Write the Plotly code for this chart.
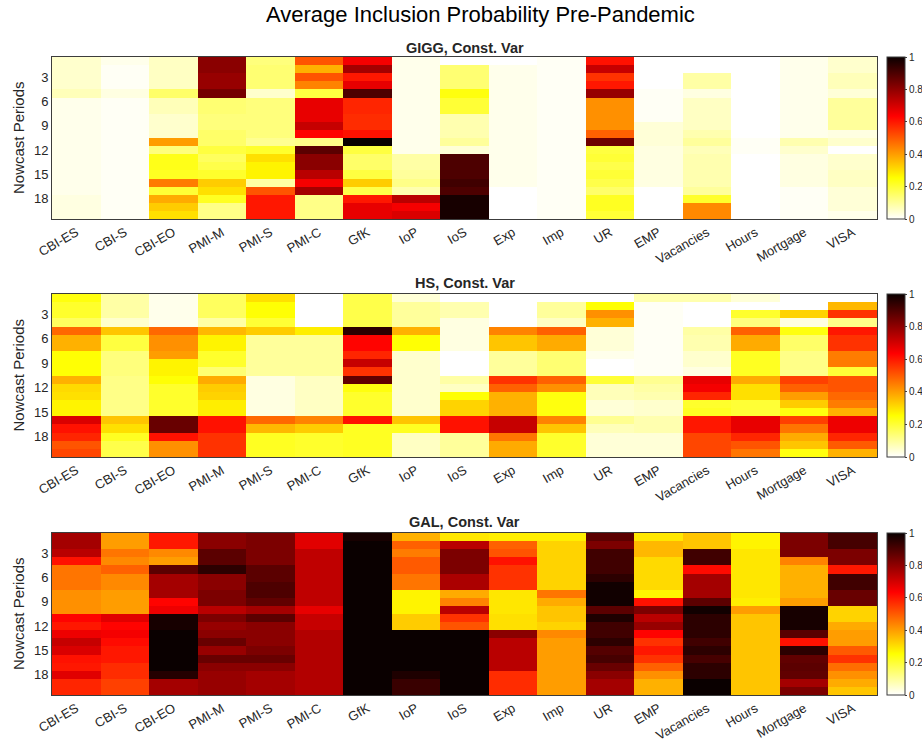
import plotly.graph_objects as go

indicators = ["CBI-ES", "CBI-S", "CBI-EO", "PMI-M", "PMI-S", "PMI-C", "GfK", "IoP", "IoS",
              "Exp", "Imp", "UR", "EMP", "Vacancies", "Hours", "Mortgage", "VISA"]
periods = list(range(1, 21))
y_ticks = [3, 6, 9, 12, 15, 18]
cbar_ticks = [0, 0.2, 0.4, 0.6, 0.8, 1]

main_title = "Average Inclusion Probability Pre-Pandemic"
panel_titles = ["GIGG, Const. Var", "HS, Const. Var", "GAL, Const. Var"]

# one list per indicator (20 nowcast periods each)
gigg = [
    [0.05,0.05,0.05,0.05,0.07,0.02,0.02,0.02,0.02,0.02,0.02,0.02,0.02,0.02,0.02,0.02,0.02,0.03,0.03,0.03],
    [0.02,0.01,0.01,0.01,0.03,0.01,0.01,0.01,0.01,0.01,0.01,0.01,0.01,0.01,0.01,0.01,0.01,0.01,0.01,0.01],
    [0.06,0.06,0.06,0.06,0.15,0.07,0.07,0.05,0.05,0.05,0.40,0.13,0.23,0.23,0.22,0.45,0.20,0.38,0.33,0.30],
    [0.81,0.81,0.79,0.79,0.84,0.14,0.14,0.13,0.13,0.15,0.15,0.19,0.16,0.18,0.21,0.33,0.30,0.22,0.12,0.12],
    [0.13,0.14,0.14,0.14,0.05,0.13,0.13,0.13,0.13,0.13,0.11,0.21,0.30,0.27,0.27,0.09,0.51,0.60,0.60,0.60],
    [0.51,0.37,0.51,0.44,0.19,0.67,0.67,0.67,0.72,0.63,0.12,0.88,0.81,0.81,0.74,0.65,0.77,0.12,0.12,0.12],
    [0.65,0.77,0.60,0.67,0.90,0.58,0.58,0.57,0.57,0.61,1.00,0.19,0.15,0.15,0.19,0.33,0.18,0.60,0.67,0.67],
    [0.02,0.02,0.02,0.02,0.02,0.02,0.02,0.02,0.02,0.02,0.02,0.02,0.09,0.09,0.10,0.12,0.08,0.74,0.65,0.69],
    [0.00,0.14,0.14,0.14,0.24,0.20,0.20,0.08,0.08,0.08,0.10,0.04,0.90,0.90,0.90,0.92,0.90,0.98,0.98,0.98],
    [0.00,0.02,0.02,0.02,0.02,0.02,0.02,0.02,0.02,0.02,0.02,0.02,0.02,0.02,0.02,0.02,0.00,0.00,0.00,0.00],
    [0.01,0.01,0.01,0.01,0.01,0.01,0.01,0.01,0.01,0.01,0.01,0.01,0.01,0.01,0.01,0.01,0.01,0.01,0.01,0.01],
    [0.61,0.72,0.56,0.60,0.79,0.42,0.42,0.42,0.42,0.49,0.85,0.19,0.20,0.18,0.20,0.18,0.15,0.22,0.22,0.20],
    [0.00,0.00,0.00,0.00,0.01,0.01,0.01,0.01,0.04,0.04,0.04,0.03,0.03,0.03,0.03,0.03,0.00,0.00,0.00,0.00],
    [0.00,0.00,0.09,0.09,0.03,0.06,0.06,0.06,0.06,0.08,0.10,0.07,0.08,0.08,0.08,0.08,0.10,0.21,0.43,0.43],
    [0.00,0.00,0.00,0.00,0.00,0.00,0.00,0.00,0.00,0.00,0.01,0.01,0.00,0.00,0.00,0.00,0.00,0.00,0.00,0.00],
    [0.02,0.02,0.02,0.02,0.02,0.02,0.02,0.02,0.02,0.02,0.08,0.05,0.03,0.03,0.03,0.03,0.01,0.01,0.01,0.01],
    [0.05,0.05,0.07,0.07,0.04,0.10,0.10,0.10,0.10,0.03,0.05,0.00,0.05,0.05,0.06,0.06,0.04,0.04,0.04,0.02],
]

hs = [
    [0.24,0.21,0.21,0.16,0.48,0.37,0.37,0.25,0.25,0.25,0.37,0.31,0.30,0.27,0.27,0.69,0.61,0.58,0.51,0.53],
    [0.09,0.09,0.09,0.05,0.34,0.19,0.19,0.13,0.13,0.13,0.12,0.12,0.12,0.12,0.12,0.34,0.30,0.22,0.18,0.18],
    [0.02,0.02,0.02,0.02,0.48,0.42,0.42,0.40,0.27,0.27,0.25,0.21,0.21,0.21,0.21,0.86,0.86,0.61,0.42,0.42],
    [0.16,0.16,0.16,0.09,0.36,0.27,0.27,0.21,0.21,0.14,0.38,0.33,0.32,0.28,0.28,0.61,0.61,0.56,0.56,0.56],
    [0.30,0.25,0.25,0.20,0.33,0.10,0.10,0.10,0.10,0.10,0.03,0.03,0.03,0.03,0.03,0.48,0.36,0.22,0.22,0.22],
    [0.00,0.00,0.00,0.00,0.28,0.10,0.10,0.10,0.10,0.10,0.06,0.06,0.06,0.06,0.06,0.44,0.33,0.21,0.21,0.21],
    [0.18,0.18,0.18,0.18,0.95,0.63,0.63,0.58,0.72,0.56,0.87,0.24,0.21,0.21,0.21,0.61,0.22,0.22,0.22,0.22],
    [0.04,0.10,0.10,0.10,0.37,0.25,0.25,0.05,0.05,0.05,0.05,0.05,0.05,0.05,0.05,0.34,0.22,0.06,0.06,0.06],
    [0.00,0.08,0.08,0.03,0.03,0.03,0.03,0.00,0.00,0.00,0.09,0.06,0.25,0.32,0.32,0.61,0.61,0.10,0.10,0.10],
    [0.00,0.00,0.00,0.00,0.44,0.34,0.34,0.10,0.10,0.10,0.56,0.49,0.37,0.37,0.37,0.72,0.72,0.46,0.38,0.38],
    [0.00,0.10,0.10,0.06,0.49,0.38,0.38,0.14,0.14,0.14,0.49,0.42,0.24,0.24,0.24,0.44,0.34,0.21,0.21,0.21],
    [0.00,0.25,0.42,0.37,0.04,0.04,0.04,0.02,0.00,0.00,0.20,0.07,0.07,0.04,0.04,0.11,0.07,0.04,0.04,0.04],
    [0.08,0.01,0.01,0.01,0.01,0.01,0.01,0.01,0.01,0.01,0.11,0.09,0.08,0.05,0.05,0.08,0.08,0.04,0.04,0.04],
    [0.08,0.00,0.00,0.00,0.09,0.08,0.08,0.05,0.05,0.03,0.67,0.65,0.58,0.21,0.22,0.60,0.60,0.53,0.53,0.53],
    [0.04,0.00,0.21,0.13,0.49,0.38,0.38,0.22,0.22,0.22,0.38,0.30,0.30,0.20,0.20,0.67,0.67,0.58,0.51,0.46],
    [0.00,0.00,0.32,0.03,0.24,0.15,0.15,0.12,0.12,0.12,0.54,0.49,0.40,0.33,0.24,0.54,0.46,0.38,0.34,0.24],
    [0.00,0.36,0.56,0.12,0.60,0.56,0.56,0.45,0.45,0.20,0.51,0.51,0.48,0.45,0.37,0.66,0.66,0.58,0.50,0.37],
]

gal = [
    [0.77,0.77,0.74,0.61,0.46,0.46,0.46,0.42,0.42,0.42,0.63,0.60,0.66,0.72,0.69,0.61,0.60,0.68,0.58,0.58],
    [0.40,0.40,0.46,0.43,0.49,0.43,0.43,0.40,0.40,0.40,0.68,0.63,0.65,0.62,0.60,0.60,0.57,0.57,0.54,0.54],
    [0.60,0.60,0.43,0.40,0.88,0.77,0.77,0.77,0.63,0.66,0.98,0.98,1.00,1.00,1.00,1.00,1.00,0.96,0.77,0.77],
    [0.81,0.81,0.88,0.88,0.95,0.81,0.81,0.83,0.83,0.74,0.83,0.79,0.81,0.86,0.79,0.86,0.81,0.79,0.79,0.79],
    [0.83,0.83,0.83,0.83,0.88,0.88,0.90,0.90,0.87,0.77,0.88,0.81,0.81,0.81,0.83,0.86,0.81,0.77,0.77,0.77],
    [0.68,0.68,0.73,0.73,0.73,0.73,0.73,0.73,0.73,0.67,0.72,0.72,0.75,0.75,0.75,0.75,0.75,0.75,0.75,0.75],
    [0.98,1.00,1.00,1.00,1.00,1.00,1.00,1.00,1.00,1.00,1.00,1.00,1.00,1.00,1.00,1.00,1.00,1.00,1.00,1.00],
    [0.37,0.49,0.45,0.50,0.50,0.46,0.46,0.27,0.27,0.27,0.33,0.33,1.00,1.00,1.00,1.00,1.00,0.97,0.93,0.93],
    [0.29,0.74,0.83,0.83,0.83,0.76,0.76,0.38,0.44,0.74,0.56,0.51,1.00,1.00,1.00,1.00,1.00,1.00,1.00,1.00],
    [0.28,0.49,0.51,0.61,0.56,0.56,0.56,0.29,0.29,0.29,0.30,0.30,0.81,0.74,0.74,0.74,0.74,0.57,0.57,0.57],
    [0.28,0.32,0.32,0.32,0.32,0.32,0.32,0.46,0.38,0.34,0.34,0.32,0.43,0.40,0.40,0.40,0.40,0.40,0.40,0.40],
    [0.88,0.83,0.92,0.92,0.92,0.95,0.99,0.99,0.99,0.88,0.97,0.92,0.92,0.95,0.89,0.91,0.86,0.81,0.77,0.77],
    [0.29,0.36,0.36,0.31,0.31,0.31,0.31,0.27,0.61,0.83,0.74,0.79,0.63,0.56,0.60,0.56,0.49,0.42,0.37,0.37],
    [0.34,0.34,0.92,0.92,0.62,0.77,0.77,0.77,0.88,0.99,0.95,0.95,0.95,0.92,0.95,0.91,0.95,0.95,1.00,1.00],
    [0.27,0.27,0.29,0.29,0.29,0.29,0.29,0.29,0.28,0.40,0.34,0.34,0.34,0.34,0.34,0.34,0.34,0.34,0.34,0.34],
    [0.83,0.83,0.83,0.44,0.37,0.37,0.37,0.37,0.40,0.98,0.98,0.98,0.88,0.61,0.95,0.87,0.88,0.87,0.77,0.83],
    [0.91,0.91,0.83,0.83,0.60,0.92,0.92,0.86,0.86,0.32,0.32,0.38,0.40,0.40,0.50,0.56,0.47,0.42,0.38,0.34],
]

panels = [gigg, hs, gal]

W, H = 922, 741
x0, x1 = 52, 877
panel_px = [(57, 219), (294, 457), (533, 695)]
title_px = [48, 283, 522]
cb_x = 887

hot_r = [[0.0, "rgb(255,255,255)"], [0.254, "rgb(255,255,0)"],
         [0.635, "rgb(255,0,0)"], [1.0, "rgb(10,0,0)"]]

FONT = "Liberation Sans, Arial, sans-serif"
TXT = "#262626"
LINE = "#3c3c3c"

fig = go.Figure()
annotations = []
for i, cols in enumerate(panels):
    z = [[cols[c][r] for c in range(len(indicators))] for r in range(len(periods))]
    top, bot = panel_px[i]
    ydom = [1 - bot / H, 1 - top / H]
    xa = "x" if i == 0 else f"x{i+1}"
    ya = "y" if i == 0 else f"y{i+1}"
    fig.add_trace(go.Heatmap(
        z=z, x=indicators, y=periods, xaxis=xa, yaxis=ya,
        colorscale=hot_r, zmin=0, zmax=1,
        colorbar=dict(
            x=cb_x / W, xanchor="left", xpad=0, ypad=0,
            y=(ydom[0] + ydom[1]) / 2, yanchor="middle",
            len=ydom[1] - ydom[0], lenmode="fraction",
            thickness=18, thicknessmode="pixels",
            outlinewidth=1, outlinecolor=LINE,
            tickvals=cbar_ticks, ticks="outside", ticklen=2, tickcolor=LINE,
            tickfont=dict(family=FONT, size=10, color=TXT),
        ),
        hoverongaps=False,
    ))
    axn = "" if i == 0 else str(i + 1)
    fig.layout["xaxis" + axn] = dict(
        domain=[x0 / W, x1 / W], anchor=ya, type="category",
        tickangle=-30, tickfont=dict(family=FONT, size=13, color=TXT),
        showline=True, mirror=True, linecolor=LINE, linewidth=1,
        ticks="", showgrid=False, zeroline=False,
    )
    fig.layout["yaxis" + axn] = dict(
        domain=ydom, anchor=xa, autorange="reversed",
        tickvals=y_ticks, tickfont=dict(family=FONT, size=13, color=TXT),
        showline=True, mirror=True, linecolor=LINE, linewidth=1,
        ticks="", showgrid=False, zeroline=False,
    )
    annotations.append(dict(
        text=f"<b>{panel_titles[i]}</b>", x=(x0 + x1) / 2 / W, y=1 - title_px[i] / H,
        xref="paper", yref="paper", xanchor="center", yanchor="middle",
        showarrow=False, font=dict(family=FONT, size=14.5, color=TXT),
    ))
    annotations.append(dict(
        text="Nowcast Periods", x=18 / W, y=(ydom[0] + ydom[1]) / 2,
        xref="paper", yref="paper", xanchor="center", yanchor="middle",
        textangle=-90, showarrow=False, font=dict(family=FONT, size=15, color=TXT),
    ))

annotations.append(dict(
    text=main_title, x=481 / W, y=1 - 15 / H, xref="paper", yref="paper",
    xanchor="center", yanchor="middle", showarrow=False,
    font=dict(family=FONT, size=22, color="#000000"),
))

fig.update_layout(
    width=W, height=H,
    margin=dict(l=0, r=0, t=0, b=0, pad=0, autoexpand=False),
    paper_bgcolor="white", plot_bgcolor="white",
    annotations=annotations,
    showlegend=False,
)

fig.write_html("out.html")
